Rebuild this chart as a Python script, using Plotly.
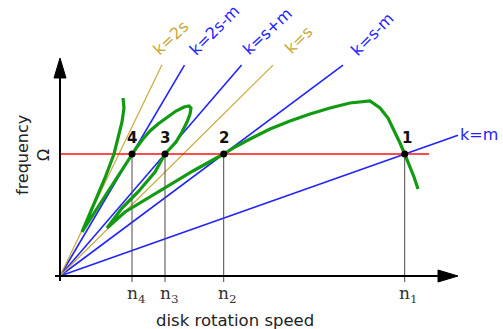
import plotly.graph_objects as go

# ---------------- data (x: disk rotation speed, y: frequency) ----------------
omega = 122.0                                   # excitation frequency level (red line)
point_labels = ["1", "2", "3", "4"]
point_speeds = [344.7, 163.7, 105.0, 72.0]      # n1..n4
tick_labels = ["n<sub>1</sub>", "n<sub>2</sub>", "n<sub>3</sub>", "n<sub>4</sub>"]

ray_labels = ["k=m", "k=s-m", "k=s+m", "k=2s-m", "k=s", "k=2s"]
ray_slopes = [122 / 344.7, 122 / 163.7, 122 / 105.0, 122 / 72.0, 0.99, 2.07]
ray_end_x = [398, 283, 181.6, 124.5, 213, 102]
ray_kind = ["blue", "blue", "blue", "blue", "gold", "gold"]
ray_label_x = [419, 312, 207, 154, 238, 110]
ray_label_y = [142, 242, 245, 246, 236, 238]
ray_label_angle = [0, -45, -43, -45, -45, -43]

curve_x = [63, 64, 62, 58, 54, 45, 35, 25, 22, 47, 72,
           77, 83, 90, 98, 107, 116, 124, 129, 131, 130, 127, 122, 116, 110, 105,
           95, 78, 62, 47, 65, 98, 133, 163.7,
           175, 190, 210, 230, 250, 270, 290, 310,
           320, 328, 335, 340, 344.7, 350, 354, 358]
curve_y = [178, 168, 154, 138, 122, 98, 74, 51, 44, 83, 122,
           129, 137, 145, 152, 159, 165, 169, 170, 168, 162, 154, 144, 134, 127, 122,
           104, 84, 68, 48, 64, 84, 105, 122,
           129, 137, 147, 155, 162, 168, 173, 175,
           168, 158, 144, 133, 122, 110, 99, 87]

red_line_x = [0, 369]

BLUE = "#2323ff"
GOLD = "#c8aa3a"
GREEN = "#129a12"
colors = {"blue": BLUE, "gold": GOLD}

fig = go.Figure()

# rays from origin
for lab, k, xe, kind in zip(ray_labels, ray_slopes, ray_end_x, ray_kind):
    fig.add_trace(go.Scatter(x=[0, xe], y=[0, k * xe], mode="lines",
                             line=dict(color=colors[kind], width=1.6 if kind == "blue" else 1.2),
                             hoverinfo="skip", showlegend=False))

# red line
fig.add_trace(go.Scatter(x=red_line_x, y=[omega, omega], mode="lines",
                         line=dict(color="#ff1010", width=1.6), showlegend=False))

# drop lines to the axis
for n in point_speeds:
    fig.add_trace(go.Scatter(x=[n, n], y=[omega, -6], mode="lines",
                             line=dict(color="#4a4a4a", width=1), showlegend=False))

# green curve
fig.add_trace(go.Scatter(x=curve_x, y=curve_y, mode="lines",
                         line=dict(color=GREEN, width=3.2), showlegend=False))

# intersection points
fig.add_trace(go.Scatter(x=point_speeds, y=[omega] * len(point_speeds), mode="markers",
                         marker=dict(color="black", size=7), showlegend=False))

ann = []
for lab, n in zip(point_labels, point_speeds):
    ann.append(dict(x=n + (2 if lab == "1" else 0), y=omega + 16, text="<b>" + lab + "</b>",
                    showarrow=False,
                    font=dict(family="DejaVu Sans", size=15, color="#111111"),
                    xanchor="center", yanchor="middle"))
for lab, n in zip(tick_labels, point_speeds):
    ann.append(dict(x=n + 4, y=-18, text=lab, showarrow=False,
                    font=dict(family="DejaVu Serif", size=17, color="#333333"),
                    xanchor="center", yanchor="middle"))
for lab, kind, lx, ly, ang in zip(ray_labels, ray_kind, ray_label_x, ray_label_y, ray_label_angle):
    ann.append(dict(x=lx, y=ly, text=lab, showarrow=False, textangle=ang,
                    font=dict(family="DejaVu Sans", size=16, color=colors[kind]),
                    xanchor="center", yanchor="middle"))
ann.append(dict(x=175, y=-44, text="disk rotation speed", showarrow=False,
                font=dict(family="DejaVu Sans", size=16.5, color="#222222"),
                xanchor="center", yanchor="middle"))
ann.append(dict(x=-27, y=121, text="frequency<br>Ω", showarrow=False, textangle=-90,
                font=dict(family="DejaVu Sans", size=16, color="#222222"),
                xanchor="center", yanchor="middle"))

shapes = [
    dict(type="line", x0=0, y0=-5, x1=0, y1=200, line=dict(color="black", width=2)),
    dict(type="path", path="M -6 198 L 6 198 L 0 218 Z", fillcolor="black",
         line=dict(color="black", width=1)),
    dict(type="line", x0=-5, y0=0, x1=380, y1=0, line=dict(color="black", width=2)),
    dict(type="path", path="M 378 -6 L 378 6 L 398 0 Z", fillcolor="black",
         line=dict(color="black", width=1)),
]

fig.update_layout(
    width=503, height=329, autosize=False,
    margin=dict(l=0, r=0, t=0, b=0),
    paper_bgcolor="white", plot_bgcolor="white",
    xaxis=dict(range=[-60, 443], visible=False, fixedrange=True),
    yaxis=dict(range=[-53, 276], visible=False, fixedrange=True),
    annotations=ann, shapes=shapes, showlegend=False,
)

fig.write_html("out.html")
